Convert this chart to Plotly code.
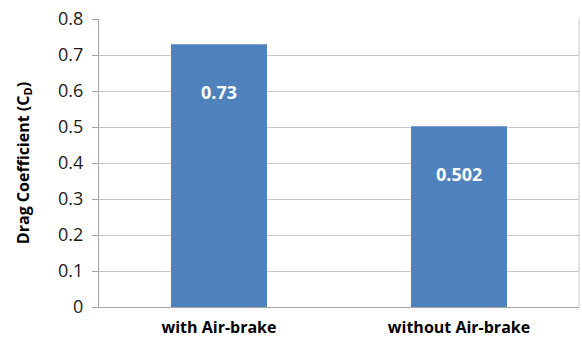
import plotly.graph_objects as go

categories = ["with Air-brake", "without Air-brake"]
drag_coefficients = [0.73, 0.502]
value_labels = ["0.73", "0.502"]
y_ticks = [0, 0.1, 0.2, 0.3, 0.4, 0.5, 0.6, 0.7, 0.8]

FONT = "Open Sans"

fig = go.Figure()
fig.add_trace(go.Bar(
    x=categories, y=drag_coefficients,
    marker=dict(color="#4F81BD", line=dict(width=0)),
    width=0.4, showlegend=False, hoverinfo="skip",
))

for c, v, t in zip(categories, drag_coefficients, value_labels):
    fig.add_annotation(x=c, y=v, text=f"<b>{t}</b>", showarrow=False,
                       yshift=-48, font=dict(family=FONT, size=18, color="white"))

fig.update_layout(
    width=582, height=350,
    margin=dict(l=99, r=3, t=19, b=43),
    paper_bgcolor="white", plot_bgcolor="white",
    font=dict(family=FONT, color="#000000"),
    bargap=0.6,
)
fig.update_xaxes(
    showline=True, linecolor="#A6A6A6", linewidth=1, mirror=False,
    ticks="", tickfont=dict(family=FONT, size=16, color="black", weight="bold"),
    ticklabelstandoff=6, automargin=False,
)
fig.update_yaxes(
    range=[0, 0.8], tickvals=y_ticks, ticktext=[str(v) for v in y_ticks],
    showgrid=True, gridcolor="#C8C8C8", gridwidth=1,
    showline=True, linecolor="#A6A6A6", linewidth=1,
    ticks="outside", ticklen=6, tickcolor="#A6A6A6",
    tickfont=dict(family=FONT, size=18, color="#1a1a1a"),
    ticklabelstandoff=5,
    title=dict(text="<b>Drag Coefficient (C<sub>D</sub>)</b>",
               font=dict(family=FONT, size=16, color="black"), standoff=24),
    zeroline=False, automargin=False,
)
# right border
fig.add_shape(type="line", xref="paper", yref="paper", x0=1, x1=1, y0=0, y1=1,
              line=dict(color="#C8C8C8", width=1))

fig.write_html("out.html", config={"displayModeBar": False},
               post_script="document.body.style.margin='0';document.body.style.overflow='hidden';")
